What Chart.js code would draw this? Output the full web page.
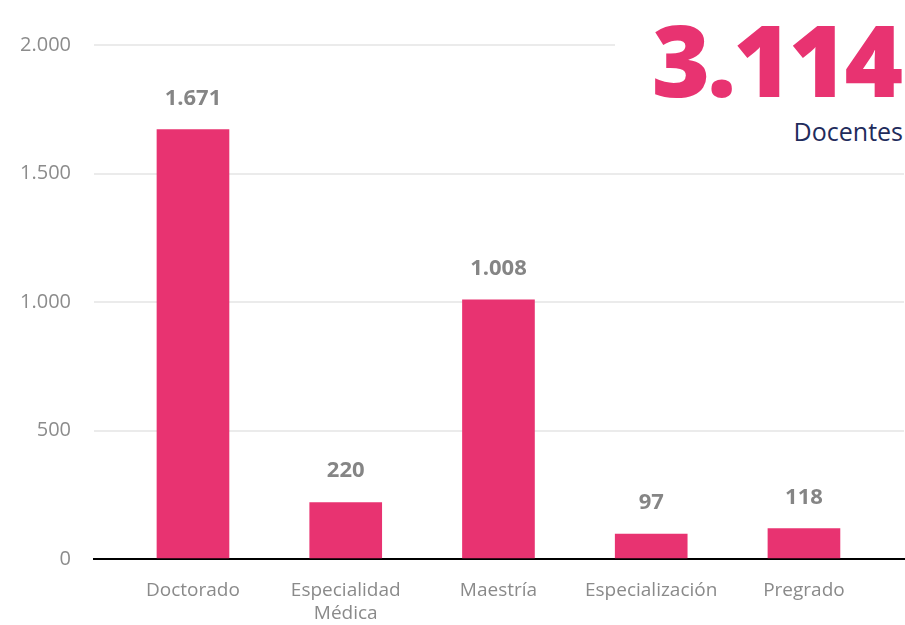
<!DOCTYPE html>
<html>
<head>
<meta charset="utf-8">
<script src="https://cdn.jsdelivr.net/npm/chart.js@4"></script>
<style>
  body { margin: 0; background: #fff; }
  #wrap { position: relative; width: 905px; height: 625px; }
  #total {
    position: absolute; right: 0; top: 0; width: 290px; height: 150px;
    background: #fff; text-align: right; font-family: "Open Sans", sans-serif;
  }
  #total .num { color: #e83371; font-size: 100px; font-weight: 800; line-height: 100px; margin-top: 8px; letter-spacing: -3px; padding-right: 5px; }
  #total .lbl { color: #1f2c5c; font-size: 25px; line-height: 30px; margin-top: 8px; padding-right: 2px; }
</style>
</head>
<body>
<div id="wrap">
  <canvas id="chart" width="905" height="625"></canvas>
  <div id="total"><div class="num">3.114</div><div class="lbl">Docentes</div></div>
</div>
<script>
// categorías y valores del gráfico
const categories = ["Doctorado", ["Especialidad", "Médica"], "Maestría", "Especialización", "Pregrado"];
const docentes = [1671, 220, 1008, 97, 118];
const yTicks = [0, 500, 1000, 1500, 2000];

const pink = "#e83371";
const fmt = (n) => n.toLocaleString("de-DE");

// etiquetas encima de cada barra
const valueLabels = {
  id: "valueLabels",
  afterDatasetsDraw(chart) {
    const ctx = chart.ctx;
    const meta = chart.getDatasetMeta(0);
    ctx.save();
    ctx.font = "bold 22px 'Open Sans', sans-serif";
    ctx.fillStyle = "#858585";
    ctx.textAlign = "center";
    ctx.textBaseline = "alphabetic";
    meta.data.forEach((bar, i) => {
      ctx.fillText(fmt(docentes[i]), bar.x, bar.y - 25);
    });
    ctx.restore();
  },
};

new Chart(document.getElementById("chart"), {
  type: "bar",
  data: {
    datasets: [
      {
        data: docentes.map((v, i) => ({ x: i, y: v })),
        backgroundColor: pink,
        barThickness: 72,
      },
    ],
  },
  options: {
    responsive: false,
    animation: false,
    layout: { padding: { top: 45, right: 1, left: 0, bottom: 0 } },
    plugins: { legend: { display: false }, tooltip: { enabled: false } },
    scales: {
      x: {
        type: "linear",
        offset: false,
        min: -0.648,
        max: 4.655,
        grid: { display: false, drawTicks: false },
        border: { color: "#000", width: 2 },
        afterFit: (s) => { s.height = 66; },
        ticks: {
          stepSize: 1,
          includeBounds: false,
          autoSkip: false,
          maxRotation: 0,
          padding: 20,
          color: "#8a8a8a",
          font: { family: "'Open Sans', sans-serif", size: 19, lineHeight: 1.2 },
          callback: (v) => (Number.isInteger(v) && categories[v] ? categories[v] : ""),
        },
      },
      y: {
        min: 0,
        max: 2000,
        afterFit: (s) => { s.width = 94; },
        afterBuildTicks: (s) => { s.ticks = yTicks.map((v) => ({ value: v })); },
        grid: { color: "#ebebeb", lineWidth: 2, drawTicks: false },
        border: { display: false },
        ticks: {
          padding: 23,
          color: "#8c8c8c",
          font: { family: "'Open Sans', sans-serif", size: 20 },
          callback: (v) => fmt(v),
        },
      },
    },
  },
  plugins: [valueLabels],
});
</script>
</body>
</html>
